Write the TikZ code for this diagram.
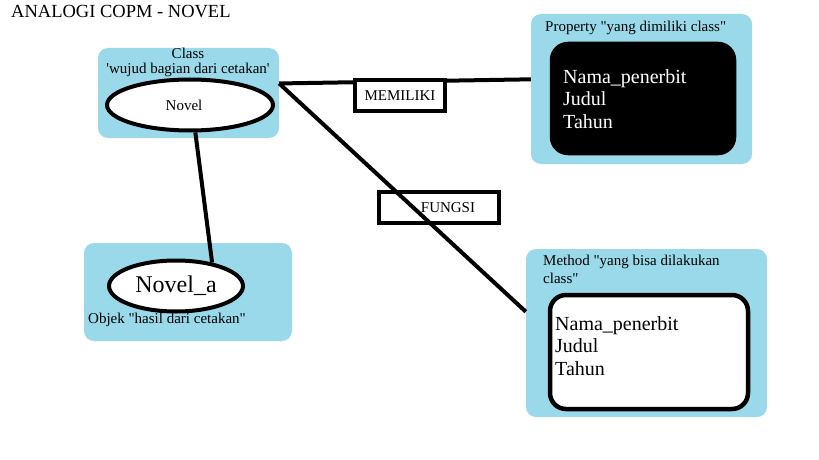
\documentclass[tikz,border=0pt]{standalone}
\usepackage{fontspec}
\setmainfont{Liberation Serif}
\usetikzlibrary{shapes.geometric}
\definecolor{biru}{HTML}{99D9EA}

\begin{document}
\begin{tikzpicture}[x=1pt, y=-1pt,
            kotak/.style={rectangle, rounded corners=10pt, fill=biru, draw=none},
            elips/.style={ellipse, draw, line width=4pt, fill=white, inner sep=0pt},
            isi/.style={rectangle, rounded corners=16pt, draw, line width=4.5pt},
            tanda/.style={rectangle, draw, line width=3.5pt, fill=white, inner sep=0pt, font=\fontsize{15}{18}\selectfont},
            teks/.style={inner sep=0pt, align=left, font=\fontsize{15}{18}\selectfont},
            besar/.style={font=\fontsize{20}{22.5}\selectfont},
            garis/.style={line width=4pt}
        ]
            \useasboundingbox (0,0) rectangle (819,460);

            % Judul
            \node[teks, anchor=base west, font=\fontsize{18.5}{22}\selectfont] (judul) at (11,18) {ANALOGI COPM - NOVEL};

            % Class
            \node[kotak, minimum width=181pt, minimum height=90pt] (classbox) at (188.5,93) {};
            \node[teks, anchor=base] (classlbl) at (188,59) {Class};
            \node[teks, anchor=base] (classket) at (188,74) {\textquotesingle wujud bagian dari cetakan\textquotesingle};

            % Objek
            \node[kotak, minimum width=208pt, minimum height=98pt] (objbox) at (188,292) {};
            \node[teks, anchor=base west] (objlbl) at (88,323) {Objek \textquotedbl hasil dari cetakan\textquotedbl};

            % Property
            \node[kotak, minimum width=221pt, minimum height=150pt] (propbox) at (641.5,89) {};
            \node[teks, anchor=base west] (proplbl) at (545,32) {Property \textquotedbl yang dimiliki class\textquotedbl};
            \node[isi, fill=black, minimum width=182pt, minimum height=109pt] (propisi) at (643,98.5) {};
            \node[teks, besar, anchor=north west, text=white] (proplist) at (563,69) {Nama\_penerbit\\Judul\\Tahun};

            % Method
            \node[kotak, minimum width=241pt, minimum height=168pt] (methbox) at (646.5,333) {};
            \node[teks, anchor=north west] (methlbl) at (543,255) {Method \textquotedbl yang bisa dilakukan\\class\textquotedbl};
            \node[isi, fill=white, minimum width=198pt, minimum height=114pt] (methisi) at (649,352) {};
            \node[teks, besar, anchor=north west] (methlist) at (555,316) {Nama\_penerbit\\Judul\\Tahun};

            % Elips
            \node[elips, minimum width=166pt, minimum height=51pt, font=\fontsize{15}{18}\selectfont] (novel) at (190,105) {Novel\hspace*{12pt}};
            \node[elips, minimum width=134pt, minimum height=51pt, font=\fontsize{24}{28}\selectfont] (novela) at (176,286) {Novel\_a};

            % Garis
            \draw[garis] (novel.-79) -- (novela.33);
            \draw[garis] (classbox.6) -- (propbox.175);
            \draw[garis] (classbox.6) -- (methbox.170);

            % Tanda
            \node[tanda, minimum width=90pt, minimum height=31pt] (memiliki) at (400,95.5) {MEMILIKI};
            \node[tanda, fill=none, minimum width=120pt, minimum height=31pt] (fungsi) at (439,207.5) {\hspace*{18pt}FUNGSI};

        \end{tikzpicture}
\end{document}
